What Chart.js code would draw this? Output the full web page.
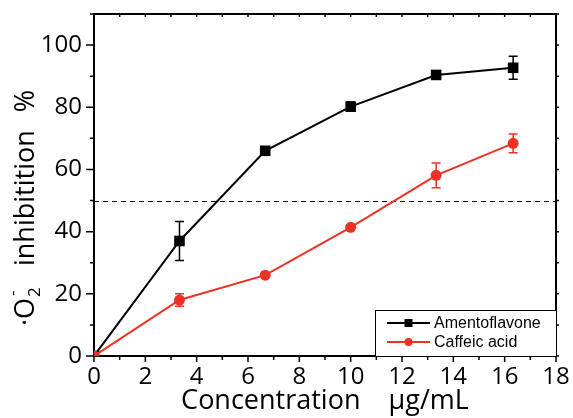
<!DOCTYPE html>
<html>
<head>
<meta charset="utf-8">
<script src="https://cdn.jsdelivr.net/npm/chart.js@4/dist/chart.umd.min.js"></script>
<style>
  html, body { margin: 0; padding: 0; background: #fff; }
</style>
</head>
<body>
<canvas id="chart" width="573" height="418"></canvas>
<script>
const concentrations = [0, 3.33, 6.67, 10, 13.33, 16.33];
const amentoflavone = [0, 37, 66, 80.2, 90.4, 92.7];
const amentoflavoneErr = [0, 6.3, 0, 1.5, 0, 3.7];
const caffeicAcid = [0, 18, 26, 41.4, 58.1, 68.4];
const caffeicAcidErr = [0, 2, 0, 0, 4, 3];
const halfLine = 50;
const xMax = 18;
const yMax = 110;

const RED = '#ee3124';
const FONT = '"Open Sans", "Liberation Sans", sans-serif';

const toPoints = (ys) => concentrations.map((x, i) => ({ x: x, y: ys[i] }));

// no extra room for overflowing labels, the layout padding decides
function noPad(scale) {
    scale.paddingTop = 0;
    scale.paddingBottom = 0;
    scale.paddingLeft = 0;
    scale.paddingRight = 0;
}

// dashed 50% line, frame, tick marks, error bars
const framePlugin = {
    id: 'frame',
    beforeDatasetsDraw(chart) {
        const { ctx, chartArea: a, scales: { x, y } } = chart;
        ctx.save();
        ctx.strokeStyle = '#000';
        ctx.lineWidth = 1;
        ctx.setLineDash([5, 4]);
        const yh = Math.round(y.getPixelForValue(halfLine)) + 0.5;
        ctx.beginPath();
        ctx.moveTo(a.left, yh);
        ctx.lineTo(a.right, yh);
        ctx.stroke();
        ctx.setLineDash([]);

        ctx.lineWidth = 2;
        ctx.strokeRect(a.left, a.top, a.right - a.left, a.bottom - a.top);

        ctx.lineWidth = 1.5;
        ctx.beginPath();
        for (let v = 0; v <= yMax; v += 10) {
            const py = y.getPixelForValue(v);
            const len = v % 20 === 0 ? 8 : 4;
            ctx.moveTo(a.left - len, py);
            ctx.lineTo(a.left, py);
            ctx.moveTo(a.right, py);
            ctx.lineTo(a.right + 3, py);
        }
        for (let v = 0; v <= xMax; v += 1) {
            const px = x.getPixelForValue(v);
            const len = v % 2 === 0 ? 6 : 4;
            ctx.moveTo(px, a.bottom);
            ctx.lineTo(px, a.bottom + len);
            ctx.moveTo(px, a.top);
            ctx.lineTo(px, a.top + 3);
        }
        ctx.stroke();

        const errs = [amentoflavoneErr, caffeicAcidErr];
        const vals = [amentoflavone, caffeicAcid];
        const cols = ['#000', RED];
        ctx.lineWidth = 1.5;
        errs.forEach((e, k) => {
            ctx.strokeStyle = cols[k];
            ctx.beginPath();
            e.forEach((d, i) => {
                if (!d) return;
                const px = x.getPixelForValue(concentrations[i]);
                const top = y.getPixelForValue(vals[k][i] + d);
                const bot = y.getPixelForValue(vals[k][i] - d);
                ctx.moveTo(px, top); ctx.lineTo(px, bot);
                ctx.moveTo(px - 4.5, top); ctx.lineTo(px + 4.5, top);
                ctx.moveTo(px - 4.5, bot); ctx.lineTo(px + 4.5, bot);
            });
            ctx.stroke();
        });
        ctx.restore();
    }
};

// legend box inside the plot, y axis title with stacked sub/superscript
const decorPlugin = {
    id: 'decor',
    afterDraw(chart) {
        const { ctx, chartArea: a } = chart;
        ctx.save();

        const bx = a.right - 181, by = a.bottom - 46;
        ctx.fillStyle = '#fff';
        ctx.fillRect(bx, by, a.right - bx, a.bottom - by);
        ctx.strokeStyle = '#000';
        ctx.lineWidth = 1;
        ctx.strokeRect(bx + 0.5, by + 0.5, a.right - bx, a.bottom - by);
        ctx.font = '16px "Liberation Sans", Arial, sans-serif';
        ctx.textBaseline = 'middle';
        chart.data.datasets.forEach((ds, i) => {
            const ly = by + 13 + i * 19;
            const x0 = bx + 12, x1 = bx + 55, xm = (x0 + x1) / 2;
            ctx.strokeStyle = ds.borderColor;
            ctx.fillStyle = ds.borderColor;
            ctx.lineWidth = 2;
            ctx.beginPath();
            ctx.moveTo(x0, ly); ctx.lineTo(x1, ly);
            ctx.stroke();
            if (ds.pointStyle === 'rect') {
                ctx.fillRect(xm - 4, ly - 4, 8, 8);
            } else {
                ctx.beginPath();
                ctx.arc(xm, ly, 4, 0, Math.PI * 2);
                ctx.fill();
            }
            ctx.fillStyle = '#000';
            ctx.fillText(ds.label, x1 + 4, ly + 1);
        });

        // y title, drawn bottom to top
        ctx.fillStyle = '#000';
        ctx.translate(34, 326);
        ctx.rotate(-Math.PI / 2);
        ctx.textBaseline = 'alphabetic';
        ctx.font = '27px ' + FONT;
        const head = '\u00B7O';
        ctx.fillText(head, 0, 0);
        const cx = ctx.measureText(head).width + 1;
        ctx.font = '17px ' + FONT;
        ctx.fillText('2', cx, 6);
        ctx.fillText('-', cx + 1, -16);
        ctx.font = '27px ' + FONT;
        ctx.fillText('inhibitition', 60, 0);
        ctx.textAlign = 'right';
        ctx.fillText('%', 236, 0);
        ctx.restore();
    }
};

new Chart(document.getElementById('chart'), {
    type: 'line',
    data: {
        datasets: [{
            label: 'Amentoflavone',
            data: toPoints(amentoflavone),
            borderColor: '#000',
            backgroundColor: '#000',
            borderWidth: 2,
            pointStyle: 'rect',
            pointRadius: 7.5,
            pointBorderWidth: 0,
            tension: 0,
            order: 1
        }, {
            label: 'Caffeic acid',
            data: toPoints(caffeicAcid),
            borderColor: RED,
            backgroundColor: RED,
            borderWidth: 2,
            pointStyle: 'circle',
            pointRadius: 5.5,
            pointBorderWidth: 0,
            tension: 0,
            order: 0
        }]
    },
    options: {
        responsive: false,
        animation: false,
        layout: { padding: { top: 14, right: 17, left: 0, bottom: 0 } },
        plugins: {
            legend: { display: false },
            tooltip: { enabled: false }
        },
        scales: {
            x: {
                type: 'linear',
                min: 0,
                max: xMax,
                grid: { display: false, drawTicks: false, tickLength: 0 },
                border: { display: false },
                ticks: {
                    stepSize: 2,
                    padding: 7,
                    color: '#000',
                    font: { family: FONT, size: 24 },
                    maxRotation: 0
                },
                title: {
                    display: true,
                    text: 'Concentration    \u03BCg/mL',
                    color: '#000',
                    font: { family: FONT, size: 27 },
                    padding: { top: 0, bottom: 0 }
                },
                afterFit(scale) { scale.height = 62; noPad(scale); }
            },
            y: {
                min: 0,
                max: yMax,
                grid: { display: false, drawTicks: false, tickLength: 0 },
                border: { display: false },
                ticks: {
                    stepSize: 20,
                    includeBounds: false,
                    padding: 12,
                    color: '#000',
                    font: { family: FONT, size: 24 }
                },
                afterFit(scale) { scale.width = 94; noPad(scale); }
            }
        }
    },
    plugins: [framePlugin, decorPlugin]
});
</script>
</body>
</html>
